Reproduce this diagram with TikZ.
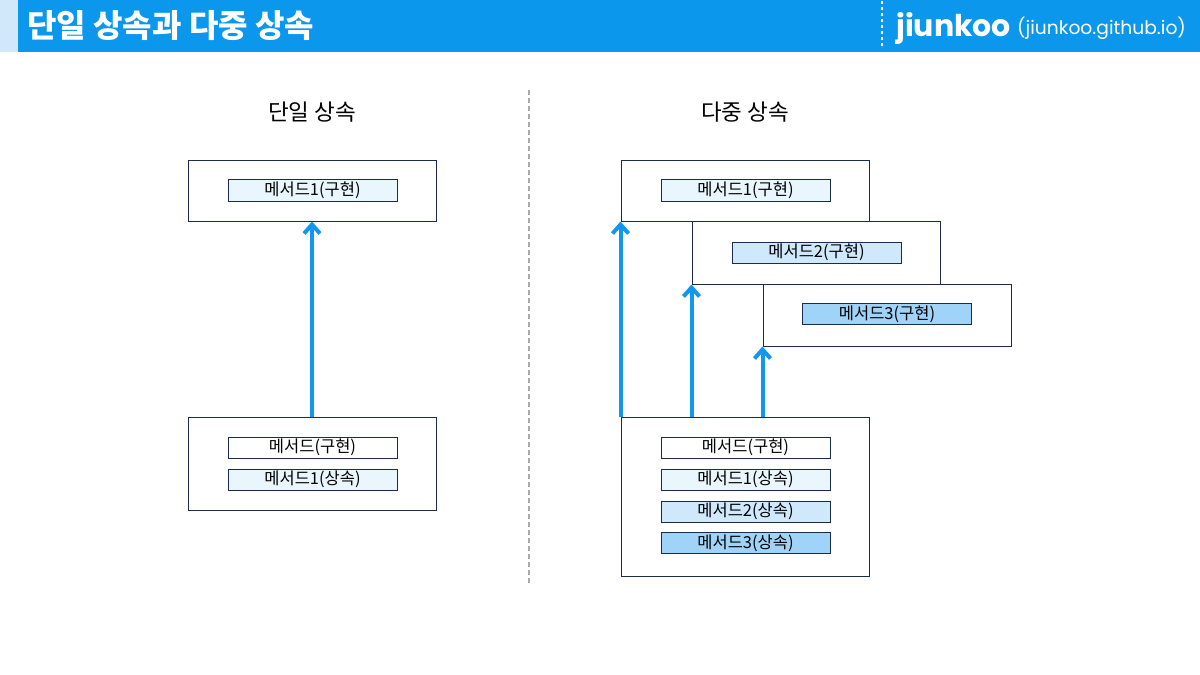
\documentclass[tikz,border=0pt]{standalone}
\usepackage{fontspec}
\setmainfont{Noto Sans CJK KR}
\newfontfamily\krfont{Noto Sans CJK KR}
\newfontfamily\popfont{Poppins}
\usetikzlibrary{arrows.meta,calc}
\definecolor{hdrblue}{HTML}{0B98EC}
\definecolor{hdrlight}{HTML}{D0E8FA}
\definecolor{navy}{HTML}{1B2B4B}
\definecolor{arrblue}{HTML}{1296EE}
\definecolor{fillA}{HTML}{EAF6FD}
\definecolor{fillB}{HTML}{CFE8FB}
\definecolor{fillC}{HTML}{9FD3F8}
\definecolor{divgray}{HTML}{AAAAAA}
\begin{document}
\begin{tikzpicture}[x=1bp,y=-1bp,
  classbox/.style={draw=navy,line width=1bp,fill=white,minimum width=248bp,inner sep=0pt},
  item/.style={draw=navy,line width=1bp,minimum width=169bp,minimum height=21bp,inner sep=0pt,font=\krfont\fontsize{16.5bp}{16.5bp}\selectfont,text=black},
  heading/.style={font=\krfont\fontsize{22.5bp}{22.5bp}\selectfont,text=black},
  inh/.style={draw=arrblue,line width=4bp,-{Straight Barb[length=9bp,width=16bp,line width=4bp]}}]
\useasboundingbox (0,0) rectangle (1200,675);
\fill[white] (0,0) rectangle (1200,675);
% header
\fill[hdrlight] (0,0) rectangle (18,52);
\fill[hdrblue] (18,0) rectangle (1200,52);
\node[anchor=west,text=white,inner sep=0pt,font=\krfont\bfseries\fontsize{32bp}{32bp}\selectfont] (title) at (27,26) {단일 상속과 다중 상속};
\draw[white,line width=2.5bp,dash pattern=on 3bp off 3bp] (882,1) -- (882,48);
\node[anchor=base west,text=white,inner sep=0pt,font=\popfont\bfseries\fontsize{30bp}{30bp}\selectfont] (brand) at (896,37) {jiunkoo};
\node[anchor=base west,text=white,inner sep=0pt,font=\popfont\fontsize{18.7bp}{18.7bp}\selectfont] (site) at (1017,35) {(jiunkoo.github.io)};
% divider
\draw[divgray,line width=1.5bp,dash pattern=on 5bp off 3bp] (529,90) -- (529,585);
% headings
\node[heading] (hL) at (312,112) {단일 상속};
\node[heading] (hR) at (745,112) {다중 상속};
% left
\node[classbox,minimum height=60bp] (lt) at (312,191) {};
\node[item,fill=fillA] (lt1) at (312.5,190.5) {메서드1(구현)};
\node[classbox,minimum height=93bp] (lb) at (312,463.5) {};
\node[item,fill=white] (lb0) at (312.5,447.5) {메서드(구현)};
\node[item,fill=fillA] (lb1) at (312.5,479.5) {메서드1(상속)};
\draw[inh] (lb.north) -- (lt.south);
% right
\node[classbox,minimum height=60bp] (r1) at (745,191) {};
\node[item,fill=fillA] (r1i) at (745.5,190.5) {메서드1(구현)};
\node[classbox,minimum height=62bp] (r2) at (816,253) {};
\node[item,fill=fillB] (r2i) at (816.5,252.5) {메서드2(구현)};
\node[classbox,minimum height=62bp] (r3) at (887,315) {};
\node[item,fill=fillC] (r3i) at (887,314) {메서드3(구현)};
\node[classbox,minimum height=159bp] (rb) at (745,496.5) {};
\node[item,fill=white] (rb0) at (745.5,447.5) {메서드(구현)};
\node[item,fill=fillA] (rb1) at (745.5,479.5) {메서드1(상속)};
\node[item,fill=fillB] (rb2) at (745.5,511.5) {메서드2(상속)};
\node[item,fill=fillC] (rb3) at (745.5,543) {메서드3(상속)};
\draw[inh] (r1.south west |- rb.north) -- (r1.south west);
\draw[inh] (r2.south west |- rb.north) -- (r2.south west);
\draw[inh] (r3.south west |- rb.north) -- (r3.south west);
\end{tikzpicture}
\end{document}
